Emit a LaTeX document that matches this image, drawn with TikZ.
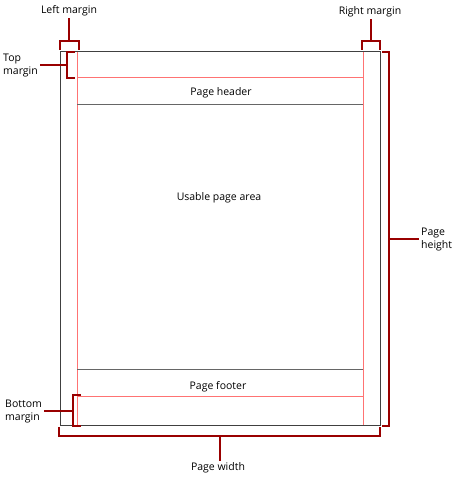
\documentclass[tikz,border=0pt]{standalone}
\usepackage{fontspec}
\setmainfont{Open Sans}
\begin{document}
\begin{tikzpicture}[x=1pt, y=-1pt, font=\fontsize{10.5}{13}\selectfont,
    page line/.style={draw=black!75, line width=1pt},
    margin line/.style={draw=red!55, line width=0.8pt},
    band line/.style={draw=black!60, line width=0.8pt},
    bracket/.style={draw=red!60!black, line width=2pt},
    label node/.style={inner sep=2pt, align=left}]
    \useasboundingbox (0,0) rectangle (454,478);
    % page and margins
    \draw[page line] (60,52) rectangle (380,425);
    \draw[margin line] (77,52) -- (77,425);
    \draw[margin line] (363,52) -- (363,425);
    \draw[margin line] (77,77) -- (363,77);
    \draw[margin line] (77,396) -- (363,396);
    \draw[band line] (77,104) -- (363,104);
    \draw[band line] (77,369) -- (363,369);
    \node (header) at (221,92.5) {Page header};
    \node (area) at (219,197.5) {Usable page area};
    \node (footer) at (218,386.5) {Page footer};
    % labels
    \node[label node] (lmlabel) at (69,11) {Left margin};
    \node[label node] (rmlabel) at (370,12) {Right margin};
    \node[label node, anchor=west] (tmlabel) at (1,66) {Top\\margin};
    \node[label node, anchor=west] (bmlabel) at (3,412) {Bottom\\margin};
    \node[label node, anchor=west] (phlabel) at (419,239.5) {Page\\height};
    \node[label node] (pwlabel) at (218,468) {Page width};
    % brackets
    \draw[bracket] (60,50) -- (60,41) -- coordinate[pos=0.47] (lm) (79,41) -- (79,50);
    \draw[bracket] (362,50) -- (362,41) -- coordinate[pos=0.5] (rm) (380,41) -- (380,50);
    \draw[bracket] (75,52) -- (67,52) -- coordinate[pos=0.5] (tm) (67,78) -- (75,78);
    \draw[bracket] (81,395) -- (73,395) -- coordinate[pos=0.5] (bm) (73,426) -- (81,426);
    \draw[bracket] (382,52) -- (389,52) -- coordinate[pos=0.5] (ph) (389,426) -- (382,426);
    \draw[bracket] (59,427) -- (59,436) -- coordinate[pos=0.5] (pw) (380,436) -- (380,427);
    \draw[bracket] (lm) -- (lm |- lmlabel.south);
    \draw[bracket] (rm) -- (rm |- rmlabel.south);
    \draw[bracket] (tm) -- (tmlabel.east |- tm);
    \draw[bracket] (bm) -- (bmlabel.east |- bm);
    \draw[bracket] (ph) -- (phlabel.west |- ph);
    \draw[bracket] (pw) -- (pw |- pwlabel.north);
\end{tikzpicture}
\end{document}
